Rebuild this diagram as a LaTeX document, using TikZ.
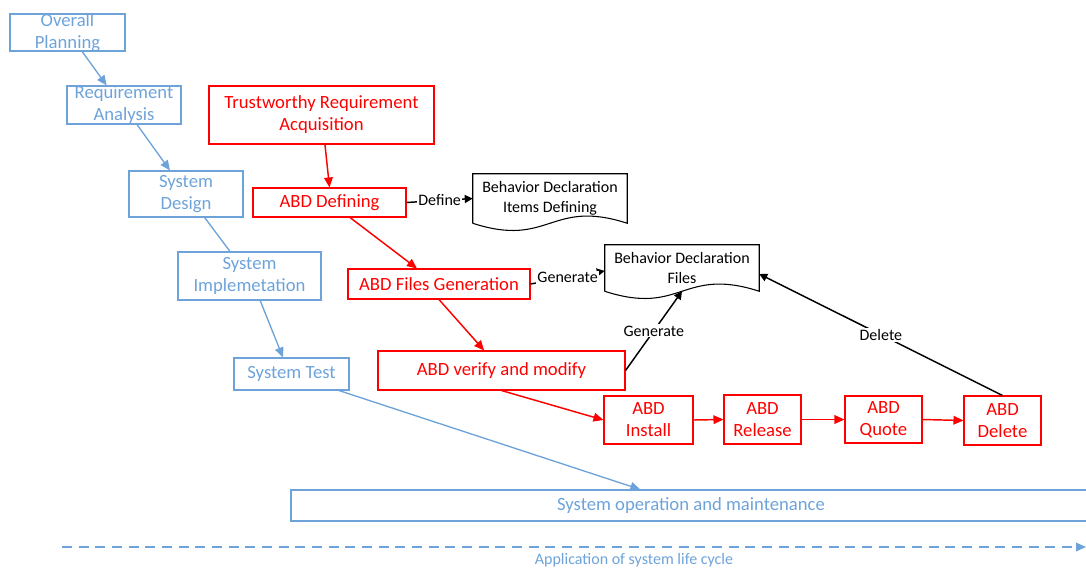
\documentclass[tikz,border=0pt]{standalone}
\usepackage{fontspec}
\setmainfont{Carlito}
\usetikzlibrary{arrows.meta}
\definecolor{lcblue}{RGB}{110,163,218}
\definecolor{abdred}{RGB}{255,0,0}
\tikzset{
  stage/.style={draw=lcblue, line width=0.8pt, text=lcblue, align=center, font=\fontsize{14}{16.5}\selectfont, inner sep=1pt},
  abd/.style={draw=abdred, line width=0.8pt, text=abdred, align=center, font=\fontsize{14}{16.5}\selectfont, inner sep=1pt},
  docu/.style={align=center, font=\fontsize{12}{15}\selectfont, inner sep=1pt, minimum width=115.5pt},
  flowb/.style={->, draw=lcblue, line width=1pt},
  flowr/.style={->, draw=abdred, line width=1.1pt},
  act/.style={->, line width=1.1pt, >={Triangle[length=6pt,width=6pt]}},
  actlbl/.style={fill=white, font=\fontsize{12}{14}\selectfont, inner sep=1pt},
}
\newcommand{\docshape}[1]{%
  \draw[line width=0.8pt] (#1.south west) -- (#1.north west) -- (#1.north east) -- (#1.south east)
    .. controls +(-77,-25) and +(77,25) .. (#1.south west);}

\begin{document}
\begin{tikzpicture}[x=0.75pt, y=-0.75pt, >={Triangle[length=7.5pt,width=6.5pt]}]
\useasboundingbox (0,0) rectangle (1086,569);

% life cycle stages
\node[stage, minimum width=86.25pt, minimum height=27.75pt, inner ysep=-2pt] (plan) at (67.5,32.5) {Overall\\Planning};
\node[stage, minimum width=85.5pt, minimum height=28.5pt, inner ysep=-2pt] (req) at (124,105) {Requirement\\Analysis};
\node[stage, minimum width=85.5pt, minimum height=34.5pt] (design) at (186,194) {System\\Design};
\node[stage, minimum width=107.25pt, minimum height=36pt] (impl) at (249.5,276) {System\\Implemetation};
\node[stage, minimum width=86.25pt, minimum height=24pt] (test) at (291.5,374) {System Test};
\node[stage, minimum width=600pt, minimum height=23.25pt] (ops) at (691,505.5) {System operation and maintenance};

\draw[flowb] ([xshift=11pt]plan.south) -- ([xshift=-13pt]req.north);
\draw[flowb] ([xshift=9.75pt]req.south) -- ([xshift=-12pt]design.north);
\draw[draw=lcblue, line width=1pt] ([xshift=14pt]design.south) -- ([xshift=-14.6pt]impl.north);
\draw[flowb] ([xshift=8pt]impl.south) -- ([xshift=-6.4pt]test.north);
\draw[flowb] ([xshift=35.6pt]test.south) -- ([xshift=-38pt]ops.north);

% ABD steps
\node[abd, minimum width=168.75pt, minimum height=43.5pt] (trust) at (321.5,115) {Trustworthy Requirement\\Acquisition};
\node[abd, minimum width=114.75pt, minimum height=21.75pt] (def) at (329.5,202.5) {ABD Defining};
\node[abd, minimum width=136.5pt, minimum height=22.5pt] (gen) at (439,284) {ABD Files Generation};
\node[abd, minimum width=185.25pt, minimum height=29.25pt] (ver) at (501.5,370.5) {ABD verify and modify};
\node[abd, minimum width=66.75pt, minimum height=36pt] (inst) at (648.5,420) {ABD\\Install};
\node[abd, minimum width=57.75pt, minimum height=36.75pt] (rel) at (762.5,419.5) {ABD\\Release};
\node[abd, minimum width=57.75pt, minimum height=35.25pt] (quo) at (883.5,419.5) {ABD\\Quote};
\node[abd, minimum width=57.75pt, minimum height=36.75pt] (del) at (1002.5,420.5) {ABD\\Delete};

\draw[flowr] ([xshift=2.6pt]trust.south) -- (def.north);
\draw[flowr] ([xshift=15.4pt]def.south) -- ([xshift=-16.5pt]gen.north);
\draw[flowr] (gen.south) -- ([xshift=-13pt]ver.north);
\draw[flowr] (ver.south) -- (inst.west);
\draw[flowr] (inst.east) -- (rel.west);
\draw[flowr] (rel.east) -- (quo.west);
\draw[flowr] (quo.east) -- (del.west);

% declaration documents
\node[docu, minimum height=36.75pt] (items) at (550,198.5) {Behavior Declaration\\Items Defining};
\node[docu, minimum height=34.5pt] (files) at (682,268) {Behavior Declaration\\Files};
\docshape{items}
\docshape{files}

\draw[act] (def.east) -- (items.west) node[actlbl, midway] {Define};
\draw[act] (gen.east) -- ([yshift=-2.25pt]files.west) node[actlbl, midway] {Generate};
\draw[act] (ver.east) -- (files.south) node[actlbl, midway] {Generate};
\draw[act] (del.north) -- ([yshift=-4.5pt]files.east) node[actlbl, midway] {Delete};

% life cycle axis
\coordinate (lc0) at (62,547);
\coordinate (lc1) at (1086,547);
\draw[flowb, dash pattern=on 7.5pt off 5pt] (lc0) -- (lc1);
\node[text=lcblue, font=\fontsize{12}{14}\selectfont] (lcl) at (634,560.5) {Application of system life cycle};
\end{tikzpicture}
\end{document}
